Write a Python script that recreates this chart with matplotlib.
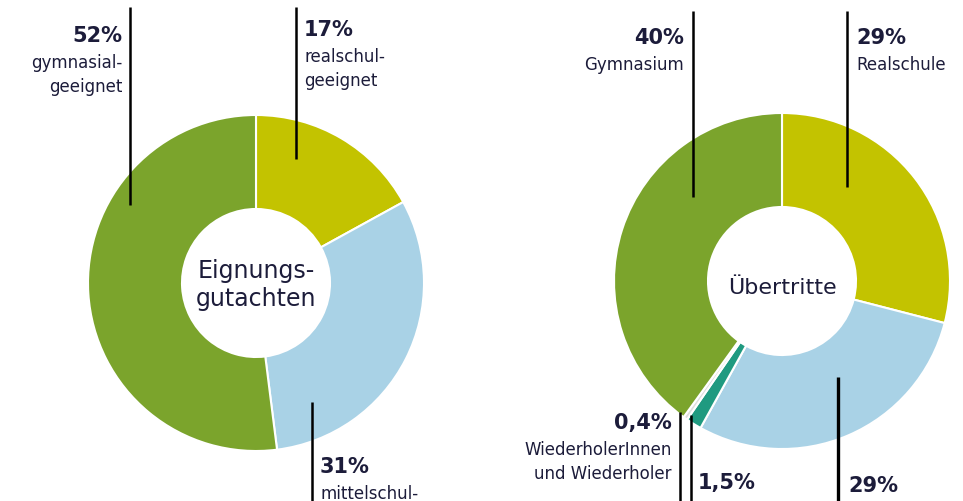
import matplotlib.pyplot as plt

# Daten
left_labels = ["realschul-\ngeeignet", "mittelschul-\ngeeignet", "gymnasial-\ngeeignet"]
left_values = [17, 31, 52]
left_pct = ["17%", "31%", "52%"]

right_labels = ["Realschule", "Mittelschule", "", "WiederholerInnen\nund Wiederholer", "Gymnasium"]
right_values = [29, 29, 1.5, 0.4, 40]
right_pct = ["29%", "29%", "1,5%", "0,4%", "40%"]

YELLOW = "#c3c300"
BLUE = "#a9d2e6"
GREEN = "#7ba42c"
TEAL = "#1f9a80"
GREY = "#dedede"
TEXT = "#1c1c3a"

left_colors = [YELLOW, BLUE, GREEN]
right_colors = [YELLOW, BLUE, TEAL, GREY, GREEN]

W, H = 963, 502

plt.rcParams["font.family"] = ["Liberation Sans Narrow", "DejaVu Sans"]

fig = plt.figure(figsize=(W / 100, H / 100), dpi=100)
ax = fig.add_axes([0, 0, 1, 1])
ax.set_xlim(0, W)
ax.set_ylim(0, H)
ax.set_aspect("equal")
ax.axis("off")


def py(y):
    # Pixelzeile von oben -> Datenkoordinate
    return H - y


def donut(values, colors, cx, cy):
    ax.pie(
        values,
        colors=colors,
        startangle=90,
        counterclock=False,
        center=(cx, py(cy)),
        radius=168,
        wedgeprops=dict(width=94, edgecolor="white", linewidth=1.5),
        frame=True,
    )


donut(left_values, left_colors, 256, 284)
donut(right_values, right_colors, 782, 282)

ax.set_xlim(0, W)
ax.set_ylim(0, H)
ax.axis("off")

# Mitte
ax.text(256, py(285), "Eignungs-\ngutachten", ha="center", va="center",
        fontsize=17, color=TEXT, linespacing=1.25)
ax.text(782, py(288), "Übertritte", ha="center", va="center",
        fontsize=16, color=TEXT)


def leader(x, y0, y1, lw=1.8):
    ax.plot([x, x], [py(y0), py(y1)], color="black", lw=lw, solid_capstyle="butt")


def label(x, y, pct, text, ha):
    ax.text(x, py(y), pct, ha=ha, va="center", fontsize=15,
            fontweight="bold", color=TEXT)
    if text:
        ax.text(x, py(y + 18), text, ha=ha, va="top", fontsize=12,
                color=TEXT, linespacing=1.45)


# links
leader(130, 8, 206)
label(122, 36, left_pct[2], left_labels[2], "right")
leader(296, 8, 160)
label(304, 30, left_pct[0], left_labels[0], "left")
leader(312, 403, 510)
label(320, 467, left_pct[1], left_labels[1], "left")

# rechts
leader(693, 12, 198)
label(684, 38, right_pct[4], right_labels[4], "right")
leader(847, 12, 188)
label(856, 38, right_pct[0], right_labels[0], "left")
leader(838, 378, 510, lw=2.4)
label(848, 486, right_pct[1], right_labels[1], "left")
leader(680, 413, 510)
leader(691, 416, 510)
label(672, 423, right_pct[3], right_labels[3], "right")
label(698, 483, right_pct[2], right_labels[2], "left")

fig.savefig("out.png", dpi=100)
